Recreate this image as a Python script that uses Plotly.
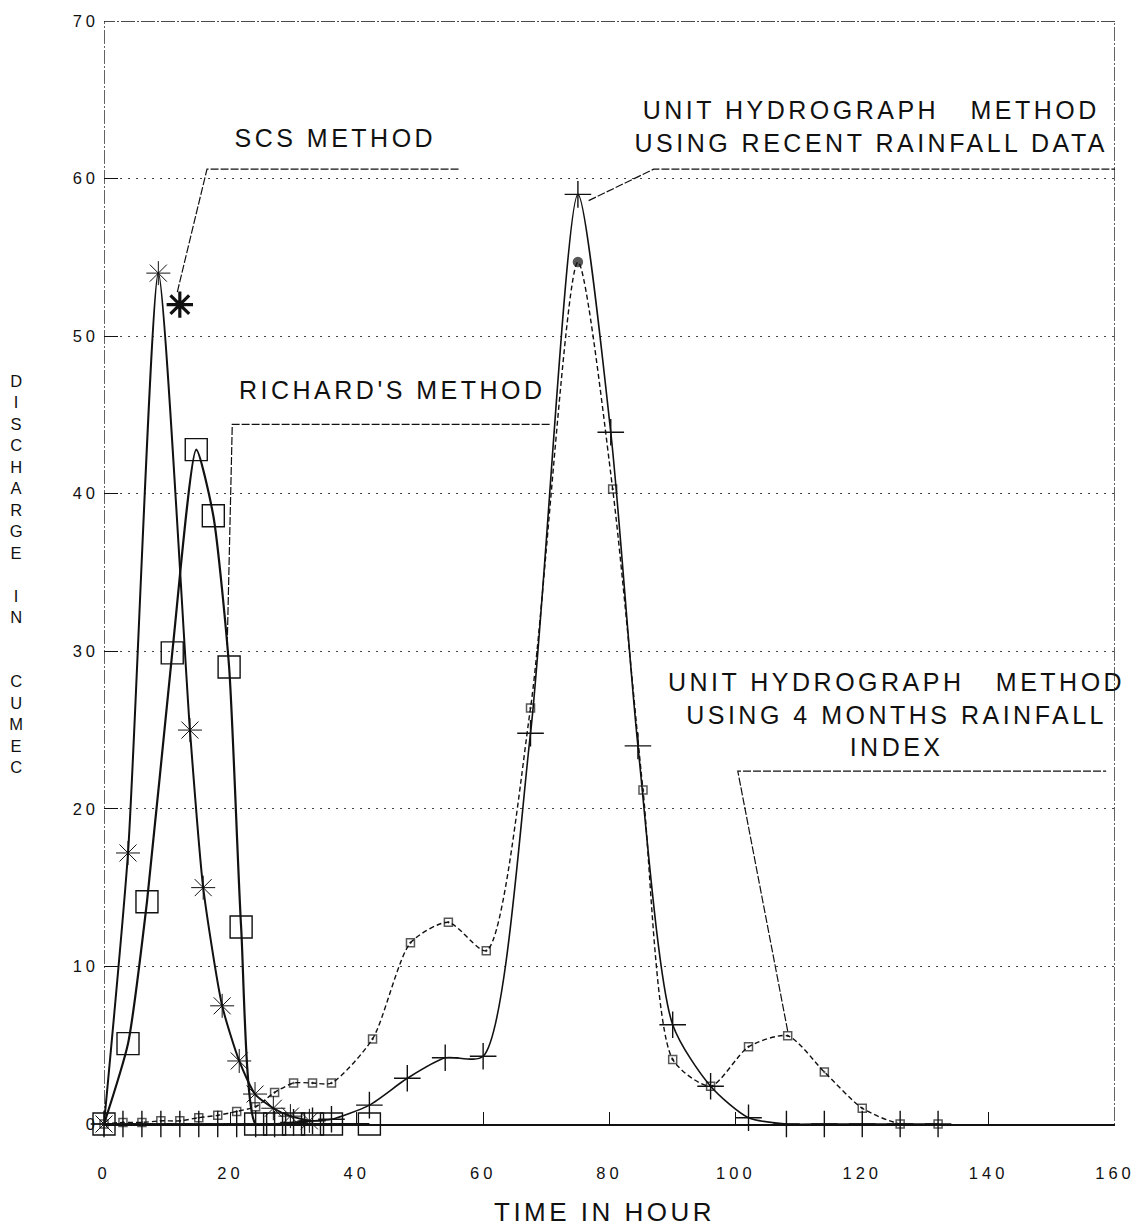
import plotly.graph_objects as go

# ---- Hydrograph data: time (hour) vs discharge (cumec) ----
scs_t = [0, 3.8, 8.6, 13.6, 15.7, 18.7, 21.4, 23.9, 26.8, 29.5, 32.5]
scs_q = [0, 17.2, 54.0, 25.0, 15.0, 7.5, 4.0, 1.9, 1.0, 0.5, 0.2]

rich_t = [0, 3.8, 6.8, 10.8, 14.6, 17.3, 19.8, 21.7, 24.0, 27.0, 30.0, 33.0, 36.0, 42.0]
rich_q = [0, 5.1, 14.1, 29.9, 42.8, 38.6, 29.0, 12.5, 0, 0, 0, 0, 0, 0]

uh_recent_t = [0, 3, 6, 9, 12, 15, 18, 21, 24, 27, 30, 33, 36, 42, 48, 54, 60,
               67.5, 75, 80.2, 84.5, 90, 96, 102, 108, 114, 120, 126, 132]
uh_recent_q = [0, 0, 0, 0, 0, 0, 0, 0, 0, 0, 0.1, 0.2, 0.3, 1.2, 2.9, 4.2, 4.3,
               24.8, 59.0, 43.9, 24.0, 6.3, 2.4, 0.4, 0, 0, 0, 0, 0]

uh_index_t = [0, 3, 6, 9, 12, 15, 18, 21, 24, 27, 30, 33, 36, 42.5, 48.5, 54.5, 60.5,
              67.5, 75, 80.5, 85.3, 90, 96, 102, 108.2, 114, 120, 126, 132]
uh_index_q = [0, 0.1, 0.1, 0.2, 0.2, 0.4, 0.55, 0.8, 1.1, 2.0, 2.6, 2.6, 2.6, 5.4, 11.5, 12.8, 11.0,
              26.4, 54.7, 40.3, 21.2, 4.1, 2.4, 4.9, 5.6, 3.3, 1.0, 0, 0]

# label key marker for the SCS curve
scs_key_t = [12.0]
scs_key_q = [52.0]

# leader lines joining each label to its curve
scs_leader_t = [11.6, 16.3, 56.4]
scs_leader_q = [52.8, 60.6, 60.6]
rich_leader_t = [19.5, 20.3, 70.7]
rich_leader_q = [30.4, 44.4, 44.4]
recent_leader_t = [76.7, 87.0, 160.0]
recent_leader_q = [58.6, 60.6, 60.6]
index_leader_t = [108.2, 100.3, 158.6]
index_leader_q = [5.9, 22.4, 22.4]

x_ticks = [0, 20, 40, 60, 80, 100, 120, 140, 160]
y_ticks = [0, 10, 20, 30, 40, 50, 60, 70]

labels = {
    "scs": "SCS METHOD",
    "rich": "RICHARD'S METHOD",
    "recent": "UNIT HYDROGRAPH\u00a0\u00a0\u00a0METHOD<br>USING RECENT RAINFALL DATA",
    "index": "UNIT HYDROGRAPH\u00a0\u00a0\u00a0METHOD<br>USING 4 MONTHS RAINFALL<br>INDEX",
}

INK = "#111111"
FONT = "Liberation Sans, Arial, sans-serif"

fig = go.Figure()

# SCS method: asterisks
fig.add_trace(go.Scatter(
    x=scs_t, y=scs_q, mode="lines+markers", cliponaxis=False,
    line=dict(color=INK, width=2.0, shape="spline", smoothing=0.6),
    marker=dict(symbol="asterisk-open", size=20, color=INK, line=dict(color=INK, width=1)),
))
# Richard's method: large open squares
fig.add_trace(go.Scatter(
    x=rich_t, y=rich_q, mode="lines+markers", cliponaxis=False,
    line=dict(color=INK, width=2.2, shape="spline", smoothing=0.6),
    marker=dict(symbol="square-open", size=22, color=INK, line=dict(color=INK, width=1.4)),
))
# Unit hydrograph, recent rainfall: crosses
fig.add_trace(go.Scatter(
    x=uh_recent_t, y=uh_recent_q, mode="lines+markers", cliponaxis=False,
    line=dict(color=INK, width=1.6, shape="spline", smoothing=0.7),
    marker=dict(symbol="cross-thin-open", size=19, color=INK, line=dict(color=INK, width=1.4)),
))
# Unit hydrograph, 4 months rainfall index: small squares (filled dot at the peak)
idx_symbols = ["circle" if q == max(uh_index_q) else "square-open-dot" for q in uh_index_q]
idx_sizes = [9 if q == max(uh_index_q) else 8 for q in uh_index_q]
fig.add_trace(go.Scatter(
    x=uh_index_t, y=uh_index_q, mode="lines+markers", cliponaxis=False,
    line=dict(color=INK, width=1.4, dash="5px,3px", shape="spline", smoothing=0.7),
    marker=dict(symbol=idx_symbols, size=idx_sizes, color=INK, line=dict(color=INK, width=1.5)),
))
# key marker beside the SCS label leader
fig.add_trace(go.Scatter(
    x=scs_key_t, y=scs_key_q, mode="markers", cliponaxis=False,
    marker=dict(symbol="asterisk-open", size=22, color=INK, line=dict(color=INK, width=3.2)),
))

for lt, lq in [(scs_leader_t, scs_leader_q), (rich_leader_t, rich_leader_q),
               (recent_leader_t, recent_leader_q), (index_leader_t, index_leader_q)]:
    fig.add_trace(go.Scatter(
        x=lt, y=lq, mode="lines", cliponaxis=False,
        line=dict(color=INK, width=1.2, dash="8px,2px"),
    ))

# chart frame (top, left, right) drawn as a broken plotter line
fig.add_shape(type="path", xref="x", yref="y",
              path="M 0,0 L 0,70 L 160,70 L 160,0",
              line=dict(color=INK, width=1.3, dash="14px,2px,2px,2px"))

label_font = dict(family=FONT, size=25, color=INK)
fig.add_annotation(x=36.6, y=62.6, text=labels["scs"], showarrow=False, font=label_font)
fig.add_annotation(x=45.6, y=46.6, text=labels["rich"], showarrow=False, font=label_font)
fig.add_annotation(x=121.4, y=63.3, text=labels["recent"], showarrow=False, font=label_font)
fig.add_annotation(x=125.4, y=26.0, text=labels["index"], showarrow=False, font=label_font)

# axis titles
fig.add_annotation(xref="paper", yref="paper", x=0.4955, y=-0.0796,
                   xanchor="center", yanchor="middle",
                   text="TIME IN HOUR", showarrow=False,
                   font=dict(family=FONT, size=26, color=INK))
fig.add_annotation(xref="paper", yref="paper", x=-0.085, y=0.499,
                   xanchor="center", yanchor="middle",
                   text="<br>".join(list("DISCHARGE") + ["\u00a0"] + list("IN") + ["\u00a0", "\u00a0"] + list("CUMEC")),
                   showarrow=False, font=dict(family=FONT, size=16.5, color=INK))

fig.update_layout(
    width=1142, height=1228,
    margin=dict(l=104, r=27, t=18, b=104),
    paper_bgcolor="white", plot_bgcolor="white",
    showlegend=False,
    font=dict(family=FONT, color=INK),
)
fig.update_xaxes(
    range=[0, 160], tickvals=x_ticks, ticktext=[str(v) for v in x_ticks],
    showgrid=False, zeroline=False,
    showline=True, linecolor=INK, linewidth=1.6,
    ticks="inside", ticklen=12, tickcolor=INK, tickwidth=1.2,
    tickfont=dict(family=FONT, size=16.5, color=INK), ticklabelstandoff=33,
)
fig.update_yaxes(
    range=[0, 70], tickvals=y_ticks, ticktext=[str(v) for v in y_ticks],
    showgrid=True, gridcolor="#444444", gridwidth=1.2, griddash="2px,6px",
    zeroline=False, showline=False,
    ticks="inside", ticklen=14, tickcolor=INK, tickwidth=1.2,
    tickfont=dict(family=FONT, size=16.5, color=INK), ticklabelstandoff=4,
)

# wide plotter-style letter spacing for the printed text
post = """
var gd = document.getElementById('{plot_id}');
function spaceText(){
  gd.querySelectorAll('.xtick text, .ytick text').forEach(function(t){ t.style.letterSpacing = '4px'; });
  gd.querySelectorAll('.annotation-text').forEach(function(t){ t.style.letterSpacing = '3.5px'; });
}
spaceText();
gd.on('plotly_afterplot', spaceText);
"""

fig.write_html("out.html", post_script=post)
